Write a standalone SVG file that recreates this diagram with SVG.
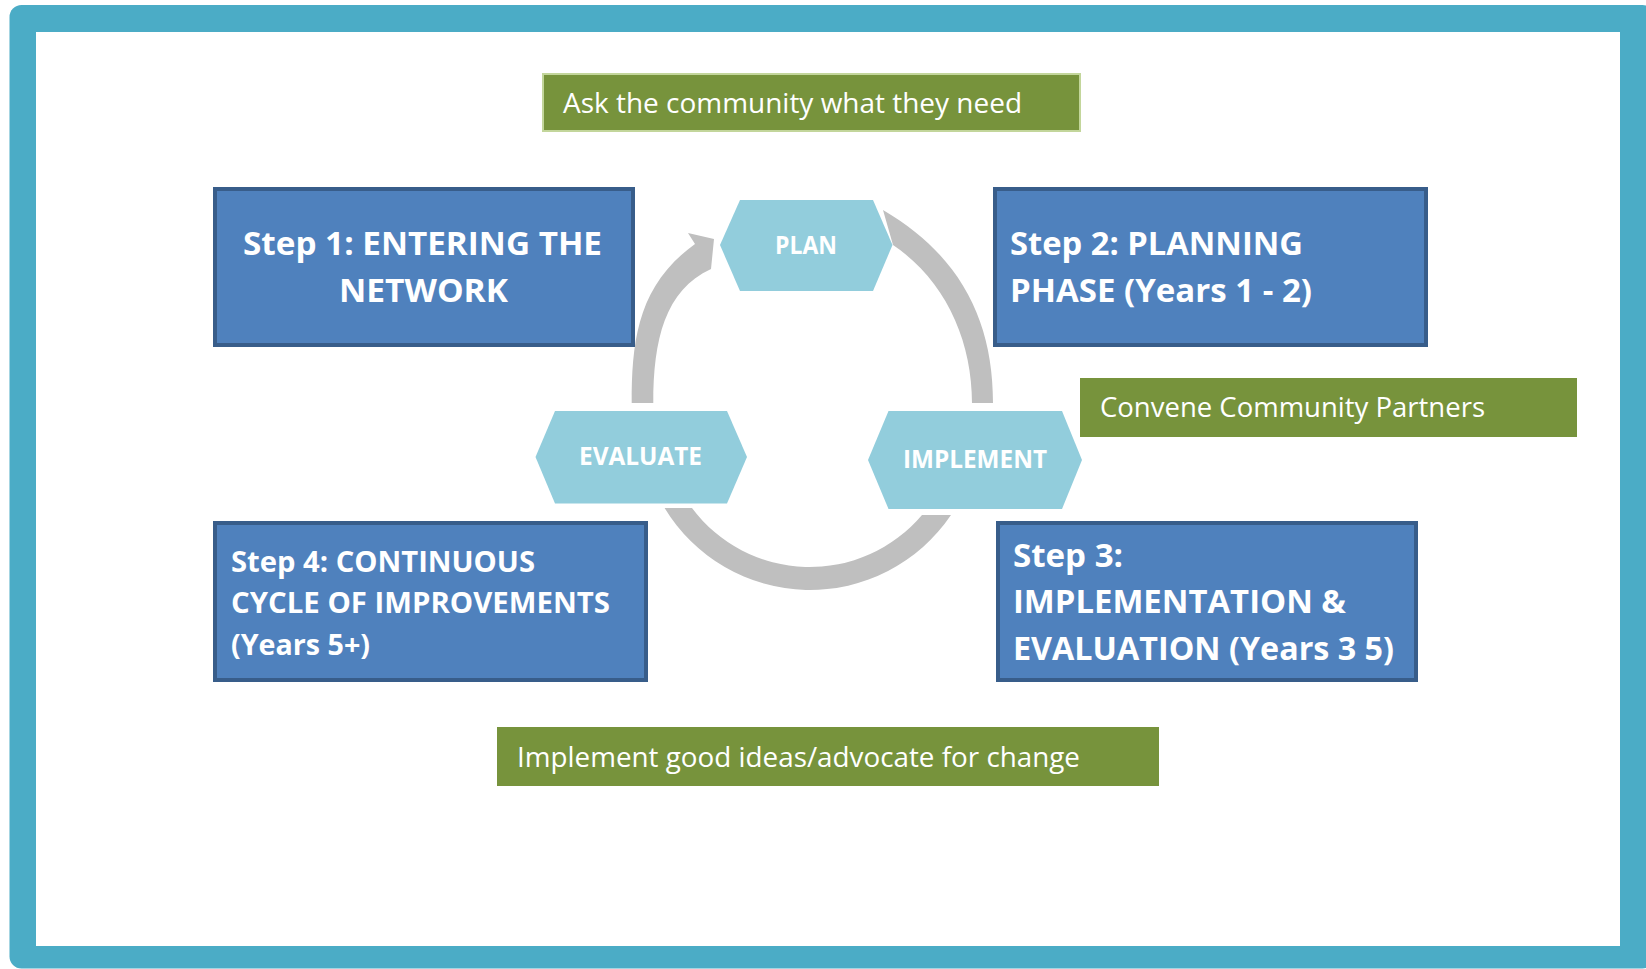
<svg xmlns="http://www.w3.org/2000/svg" width="1646" height="969" viewBox="0 0 1646 969">
<style>
.step{fill:#4F81BD;stroke:#385D8A;stroke-width:4}
.stxt{font-family:"Open Sans","Liberation Sans",sans-serif;font-weight:bold;fill:#FFFFFF}
.green{fill:#77933C}
.gtxt{font-family:"Open Sans","Liberation Sans",sans-serif;font-size:27px;fill:#FFFFFF}
.hex{fill:#92CDDC}
.htxt{font-family:"Open Sans","Liberation Sans",sans-serif;font-weight:bold;font-size:25px;fill:#FFFFFF}
.arc{fill:#BFBFBF}
</style>
<rect x="9.5" y="5" width="1645" height="963.5" rx="12" fill="#4BACC6"/>
<rect x="36" y="32" width="1584" height="914" fill="#FFFFFF"/>

<g id="connectors">
<path class="arc" d="M631.7,403 C631.7,340 638,285 695,244 L688,233 L714,239 L711,269 C665,290 653.3,340 653.3,403 Z"/>
<path class="arc" d="M883,210 C960,255 993,320 993,403 L972,403 C972,340 945,280 893,245 Z"/>
<path class="arc" d="M664.6,508 A170,170 0 0,0 951,515 L922,515 A147,147 0 0,1 692,508 Z"/>
</g>

<g id="note-ask">
<rect x="543" y="74" width="537" height="57" class="green" stroke="#C3D69B" stroke-width="2"/>
<text class="gtxt" x="563" y="113" textLength="459" lengthAdjust="spacingAndGlyphs">Ask the community what they need</text>
</g>

<g id="note-convene">
<rect x="1080" y="378" width="497" height="59" class="green"/>
<text class="gtxt" x="1100" y="417" font-size="26" textLength="385" lengthAdjust="spacingAndGlyphs">Convene Community Partners</text>
</g>

<g id="note-implement">
<rect x="497" y="727" width="662" height="59" class="green"/>
<text class="gtxt" x="517" y="767" font-size="26" textLength="563" lengthAdjust="spacingAndGlyphs">Implement good ideas/advocate for change</text>
</g>

<g id="step1">
<rect class="step" x="215" y="189" width="418" height="156"/>
<text class="stxt" font-size="32.5" x="243" y="255" textLength="359" lengthAdjust="spacingAndGlyphs">Step 1: ENTERING THE</text>
<text class="stxt" font-size="32.5" x="339" y="302" textLength="169" lengthAdjust="spacingAndGlyphs">NETWORK</text>
</g>

<g id="step2">
<rect class="step" x="995" y="189" width="431" height="156"/>
<text class="stxt" font-size="32.5" x="1010" y="255" textLength="293" lengthAdjust="spacingAndGlyphs">Step 2: PLANNING</text>
<text class="stxt" font-size="32.5" x="1010" y="302" textLength="302" lengthAdjust="spacingAndGlyphs">PHASE (Years 1 - 2)</text>
</g>

<g id="step3">
<rect class="step" x="998" y="523" width="418" height="157"/>
<text class="stxt" font-size="32" x="1013" y="567" textLength="110" lengthAdjust="spacingAndGlyphs">Step 3:</text>
<text class="stxt" font-size="32" x="1013" y="613" textLength="333" lengthAdjust="spacingAndGlyphs">IMPLEMENTATION &amp;</text>
<text class="stxt" font-size="32" x="1013" y="660" textLength="381" lengthAdjust="spacingAndGlyphs">EVALUATION (Years 3 5)</text>
</g>

<g id="step4">
<rect class="step" x="215" y="523" width="431" height="157"/>
<text class="stxt" font-size="28.5" x="231" y="572" textLength="304" lengthAdjust="spacingAndGlyphs">Step 4: CONTINUOUS</text>
<text class="stxt" font-size="28.5" x="231" y="613" textLength="379" lengthAdjust="spacingAndGlyphs">CYCLE OF IMPROVEMENTS</text>
<text class="stxt" font-size="28.5" x="231" y="655" textLength="139" lengthAdjust="spacingAndGlyphs">(Years 5+)</text>
</g>

<g id="plan">
<polygon class="hex" points="720,245 740,200 873,200 892.5,245 873,291 740,291"/>
<text class="htxt" x="775" y="253.5" textLength="62" lengthAdjust="spacingAndGlyphs">PLAN</text>
</g>

<g id="evaluate">
<polygon class="hex" points="535.5,457 555,411 727,411 747,457 727,503.5 555,503.5"/>
<text class="htxt" x="579" y="464.5" textLength="123" lengthAdjust="spacingAndGlyphs">EVALUATE</text>
</g>

<g id="implement">
<polygon class="hex" points="868,460 888.5,411 1062,411 1082,460 1062,509 888.5,509"/>
<text class="htxt" x="903" y="467.5" textLength="144" lengthAdjust="spacingAndGlyphs">IMPLEMENT</text>
</g>
</svg>
